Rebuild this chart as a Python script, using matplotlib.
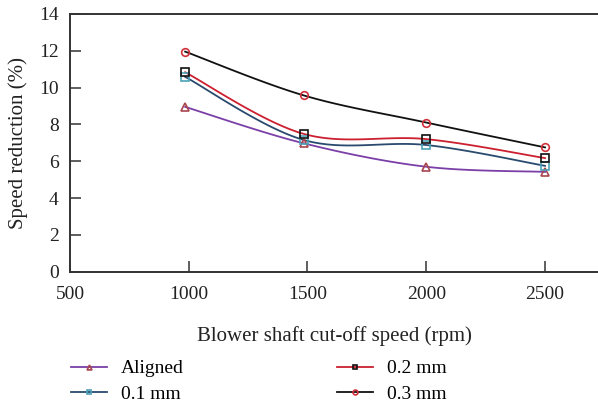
import numpy as np
import matplotlib
matplotlib.use('Agg')
import matplotlib.pyplot as plt

# %% data
speed = [985, 1485, 2000, 2500]
aligned = [8.95, 6.97, 5.70, 5.42]
mm01 = [10.58, 7.15, 6.88, 5.75]
mm02 = [10.83, 7.48, 7.20, 6.17]
mm03 = [11.95, 9.57, 8.10, 6.75]

labels = ['Aligned', '0.1 mm', '0.2 mm', '0.3 mm']
xticks = [500, 1000, 1500, 2000, 2500]
yticks = [0, 2, 4, 6, 8, 10, 12, 14]


def smooth(x, y, n=40):
    # excel-like smoothed line (catmull-rom through the points)
    p = np.column_stack([x, y]).astype(float)
    p = np.vstack([p[0], p, p[-1]])
    out = []
    t = np.linspace(0, 1, n)[:, None]
    for i in range(1, len(p) - 2):
        p0, p1, p2, p3 = p[i - 1], p[i], p[i + 1], p[i + 2]
        c1 = p1 + (p2 - p0) / 6
        c2 = p2 - (p3 - p1) / 6
        seg = ((1 - t) ** 3 * p1 + 3 * (1 - t) ** 2 * t * c1
               + 3 * (1 - t) * t ** 2 * c2 + t ** 3 * p2)
        out.append(seg)
    s = np.vstack(out)
    return s[:, 0], s[:, 1]


plt.rcParams['font.family'] = ['Liberation Serif', 'DejaVu Serif']

fig = plt.figure(figsize=(5.98, 4.08), dpi=100)
ax = fig.add_axes([0.117, 0.334, 0.883, 0.632])

series = [aligned, mm01, mm02, mm03]
line_cols = ['#7b3fa8', '#2a4a6e', '#cc2030', '#111111']
mark_cols = ['#a8454f', '#4aa3b8', '#111111', '#d0303a']
markers = ['^', 's', 's', 'o']

handles = []
for y, lab, lc, mc, mk in zip(series, labels, line_cols, mark_cols, markers):
    sx, sy = smooth(speed, y)
    ax.plot(sx, sy, color=lc, lw=1.3, zorder=2)
    ax.plot(speed, y, linestyle='none', marker=mk, ms=5.5, mfc='none',
            mec=mc, mew=1.2, zorder=3)
    h, = ax.plot([], [], color=lc, lw=1.3, marker=mk, ms=3.5, mfc='none',
                 mec=mc, mew=1.2, label=lab)
    handles.append(h)

ax.set_xlim(500, 2723)
ax.set_ylim(0, 14)
ax.set_xticks(xticks)
ax.set_yticks(yticks)
ax.spines['right'].set_visible(False)
for s in ['left', 'top', 'bottom']:
    ax.spines[s].set_linewidth(1.4)
    ax.spines[s].set_color('#333333')
ax.tick_params(direction='in', length=8, width=1.1, colors='#333333',
               labelsize=14, labelcolor='#222222')
ax.tick_params(axis='x', pad=10)
ax.tick_params(axis='y', pad=8)
ax.set_xlabel('Blower shaft cut-off speed (rpm)', fontsize=15,
              color='#222222', labelpad=17)
ax.set_ylabel('Speed reduction (%)', fontsize=15, color='#222222',
              labelpad=8)

fig.legend(handles=handles, loc='lower left', bbox_to_anchor=(0.09, -0.03),
           ncol=2, frameon=False, fontsize=14, handlelength=1.85,
           columnspacing=7.9, labelspacing=0.4, handletextpad=0.7)

fig.savefig('out.png', dpi=100)
